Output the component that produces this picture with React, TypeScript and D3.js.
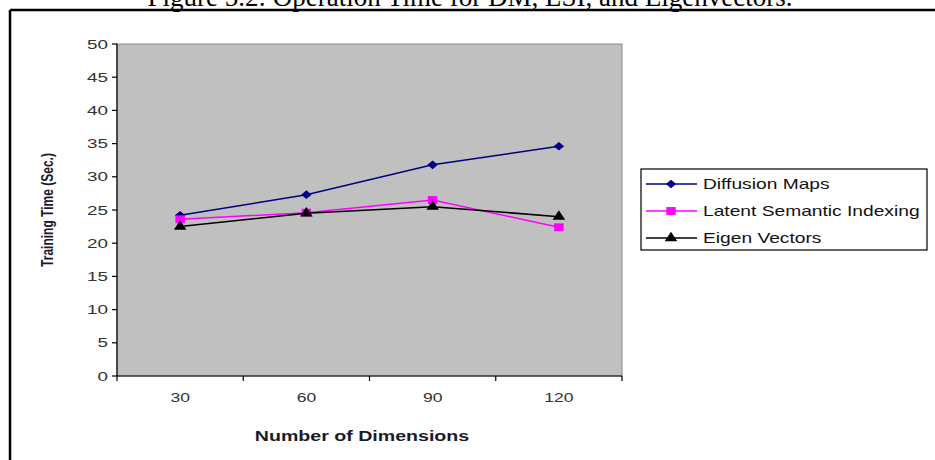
import React from "react";
import * as d3 from "d3";

const dims = ["30", "60", "90", "120"];
const diffusion = [24.2, 27.3, 31.8, 34.6];
const lsi = [23.6, 24.6, 26.5, 22.4];
const eigen = [22.5, 24.5, 25.5, 24.0];
const yTicks = [0, 5, 10, 15, 20, 25, 30, 35, 40, 45, 50];
const seriesNames = ["Diffusion Maps", "Latent Semantic Indexing", "Eigen Vectors"];
const seriesColors = ["#000080", "#ff00ff", "#000000"];
const title = "Figure 5.2: Operation Time for DM, LSI, and Eigenvectors.";
const xTitle = "Number of Dimensions";
const yTitle = "Training Time (Sec.)";

const W = 935, H = 460;
const plot = { left: 117, right: 622, top: 44, bottom: 376 };

export default function App() {
  const x = d3.scaleBand().domain(dims).range([plot.left, plot.right]);
  const y = d3.scaleLinear().domain([0, 50]).range([plot.bottom, plot.top]);
  const cx = (i: number) => (x(dims[i]) as number) + x.bandwidth() / 2;
  const line = d3.line<number>().x((_, i) => cx(i)).y((d) => y(d));
  const series = [diffusion, lsi, eigen];
  const sans = "'Liberation Sans', Arial, sans-serif";

  const marker = (si: number, px: number, py: number, key: string) => {
    if (si === 0) {
      return <path key={key} d={d3.symbol().type(d3.symbolSquare).size(38)() as string}
        transform={`translate(${px},${py}) scale(1.2,1) rotate(45)`} fill={seriesColors[si]} />;
    }
    if (si === 1) {
      return <path key={key} d={d3.symbol().type(d3.symbolSquare).size(62)() as string}
        transform={`translate(${px},${py}) scale(1.2,1)`} fill={seriesColors[si]} />;
    }
    return <path key={key} d={d3.symbol().type(d3.symbolTriangle).size(52)() as string}
      transform={`translate(${px},${py}) scale(1.15,1)`} fill={seriesColors[si]} />;
  };

  const bounds = [...dims.map((d) => x(d) as number), plot.right];

  return (
    <svg width={W} height={H} style={{ position: "absolute", left: 0, top: 0, background: "#fff" }}>
      <text x={470} y={6} textAnchor="middle" fontFamily="'Liberation Serif', 'Times New Roman', serif" fontSize={27} fill="#000">{title}</text>
      <line x1={10} y1={10} x2={W + 5} y2={10} stroke="#000" strokeWidth={2.5} />
      <line x1={10} y1={10} x2={10} y2={H + 5} stroke="#000" strokeWidth={2.5} />

      <rect x={plot.left} y={plot.top} width={plot.right - plot.left} height={plot.bottom - plot.top} fill="#c0c0c0" stroke="#8a8a8a" strokeWidth={1} />
      <line x1={plot.left} y1={plot.top} x2={plot.left} y2={plot.bottom} stroke="#000" strokeWidth={1.2} />
      <line x1={plot.left} y1={plot.bottom} x2={plot.right} y2={plot.bottom} stroke="#000" strokeWidth={1.2} />

      {yTicks.map((t) => (
        <g key={t}>
          <line x1={plot.left - 5} x2={plot.left} y1={y(t)} y2={y(t)} stroke="#000" strokeWidth={1.2} />
          <text transform={`translate(${plot.left - 9},${y(t)}) scale(1.45,1)`} dy="0.35em" textAnchor="end" fontFamily={sans} fontSize={13} fill="#333">{t}</text>
        </g>
      ))}
      {bounds.map((b, i) => (
        <line key={i} x1={b} x2={b} y1={plot.bottom} y2={plot.bottom + 5} stroke="#000" strokeWidth={1.2} />
      ))}
      {dims.map((d, i) => (
        <text key={d} transform={`translate(${cx(i)},397) scale(1.35,1)`} dy="0.35em" textAnchor="middle" fontFamily={sans} fontSize={13} fill="#333">{d}</text>
      ))}
      <text transform={`translate(362,436) scale(1.4,1)`} dy="0.35em" textAnchor="middle" fontFamily={sans} fontSize={14} fontWeight="bold" fill="#1a1a2a">{xTitle}</text>
      <text transform={`translate(47,210) rotate(-90) scale(1,1.35)`} dy="0.35em" textAnchor="middle" fontFamily={sans} fontSize={12} fontWeight="bold" fill="#1a1a2a">{yTitle}</text>

      {series.map((s, si) => (
        <g key={si}>
          <path d={line(s) as string} fill="none" stroke={seriesColors[si]} strokeWidth={1.5} />
          {s.map((v, i) => marker(si, cx(i), y(v), `${si}-${i}`))}
        </g>
      ))}

      <rect x={641} y={169} width={286} height={81} fill="#fff" stroke="#000" strokeWidth={1.2} />
      {seriesNames.map((n, i) => {
        const ry = 184 + i * 27;
        return (
          <g key={n}>
            <line x1={646} x2={697} y1={ry} y2={ry} stroke={seriesColors[i]} strokeWidth={1.5} />
            {marker(i, 671, ry, `lg${i}`)}
            <text transform={`translate(703,${ry}) scale(1.28,1)`} dy="0.35em" fontFamily={sans} fontSize={15} fill="#111">{n}</text>
          </g>
        );
      })}
    </svg>
  );
}
